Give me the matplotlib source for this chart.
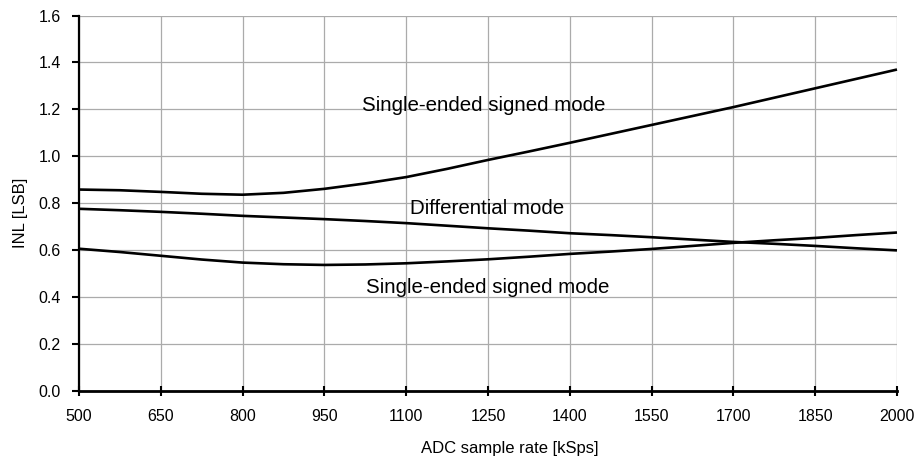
import matplotlib
matplotlib.use("Agg")
import matplotlib.pyplot as plt

plt.rcParams['font.family'] = ['Liberation Sans', 'DejaVu Sans']

rate = [500, 575, 650, 725, 800, 875, 950, 1025, 1100, 1175, 1250, 1325, 1400,
        1475, 1550, 1625, 1700, 1775, 1850, 1925, 2000]
inl_upper = [0.859, 0.856, 0.849, 0.841, 0.837, 0.845, 0.862, 0.885, 0.912, 0.947, 0.985, 1.021, 1.058,
             1.096, 1.134, 1.172, 1.210, 1.250, 1.290, 1.330, 1.370]
inl_diff = [0.777, 0.771, 0.764, 0.756, 0.747, 0.740, 0.733, 0.725, 0.716, 0.705, 0.694, 0.684, 0.673,
            0.665, 0.656, 0.646, 0.636, 0.628, 0.619, 0.609, 0.600]
inl_lower = [0.607, 0.593, 0.577, 0.561, 0.548, 0.541, 0.538, 0.540, 0.545, 0.553, 0.562, 0.573, 0.585,
             0.595, 0.606, 0.619, 0.632, 0.643, 0.653, 0.665, 0.676]

xticks = [500, 650, 800, 950, 1100, 1250, 1400, 1550, 1700, 1850, 2000]
yticks = [0.0, 0.2, 0.4, 0.6, 0.8, 1.0, 1.2, 1.4, 1.6]

labels = ["Single-ended signed mode", "Differential mode", "Single-ended signed mode"]
label_pos = [(1243, 1.215), (1248, 0.777), (1249, 0.444)]

fig = plt.figure(figsize=(9.18, 4.63), dpi=100)
ax = fig.add_axes([79/918, 1-391.3/463, (897-79)/918, (391.3-15.5)/463])

for ys in [inl_upper, inl_diff, inl_lower]:
    ax.plot(rate, ys, color='black', lw=1.9, solid_capstyle='butt',
            solid_joinstyle='round', zorder=3, clip_on=False)

ax.set_xlim(500, 2000)
ax.set_ylim(0, 1.6)
ax.set_xticks(xticks)
ax.set_yticks(yticks)
ax.set_xticklabels([str(v) for v in xticks])
ax.set_yticklabels([f"{v:.1f}" for v in yticks])
ax.grid(True, color='#ababab', lw=0.9, zorder=0)
ax.set_axisbelow(True)

for s in ['top', 'right']:
    ax.spines[s].set_visible(False)
ax.spines['left'].set_linewidth(1.6)
ax.spines['bottom'].set_linewidth(2.0)
ax.spines['left'].set_zorder(4)
ax.spines['bottom'].set_zorder(4)

ax.tick_params(axis='y', direction='out', length=5, width=1.5, labelsize=11.5, pad=8, colors='black')
ax.tick_params(axis='x', direction='inout', length=7, width=1.5, labelsize=11.5, pad=9, colors='black')

for t, (x, y) in zip(labels, label_pos):
    ax.text(x, y, t, ha='center', va='center', fontsize=14.8, color='black')

fig.text(510/918, 1-448/463, "ADC sample rate [kSps]", ha='center', va='center', fontsize=12)
fig.text(20/918, 1-213/463, "INL [LSB]", ha='center', va='center', rotation=90, fontsize=12)

fig.savefig("out.png", dpi=100, facecolor='white')
